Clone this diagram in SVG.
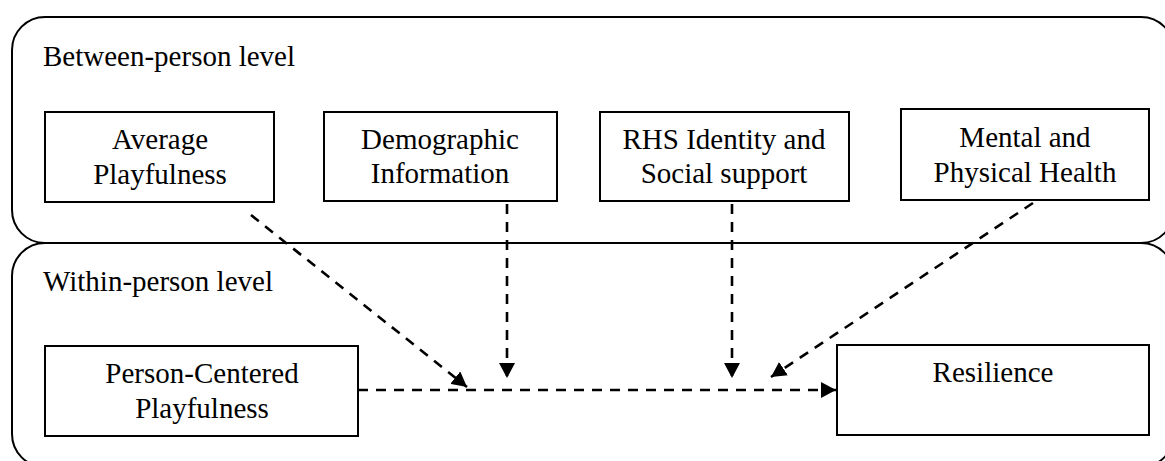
<svg xmlns="http://www.w3.org/2000/svg" width="1165" height="461" viewBox="0 0 1165 461">
<style>
.container{fill:none;stroke:#000;stroke-width:2}
.box{fill:#fff;stroke:#000;stroke-width:2}
.t{font-family:"Liberation Serif","Times New Roman",serif;font-size:29px;fill:#000}
.c{text-anchor:middle}
.dash{fill:none;stroke:#000;stroke-width:2.6;stroke-dasharray:10 8}
</style>
<defs>
<marker id="arr" markerUnits="userSpaceOnUse" markerWidth="16" markerHeight="16" refX="15" refY="8" orient="auto">
<path d="M0,0 L15,8 L0,16 z" fill="#000"/>
</marker>
</defs>
<rect width="1165" height="461" fill="#fff"/>
<g id="between-level">
<rect class="container" x="12" y="17" width="1162" height="226" rx="33" ry="33"/>
<text class="t" x="43" y="66">Between-person level</text>
</g>
<g id="within-level">
<rect class="container" x="12" y="243" width="1162" height="224" rx="33" ry="33"/>
<text class="t" x="43" y="291">Within-person level</text>
</g>
<g id="average-playfulness">
<rect class="box" x="45" y="112" width="229" height="90"/>
<text class="t c" x="160" y="149">Average</text>
<text class="t c" x="160" y="184">Playfulness</text>
</g>
<g id="demographic-information">
<rect class="box" x="324" y="112" width="233" height="89"/>
<text class="t c" x="440" y="149">Demographic</text>
<text class="t c" x="440" y="183">Information</text>
</g>
<g id="rhs-identity">
<rect class="box" x="600" y="112" width="249" height="89"/>
<text class="t c" x="724" y="149">RHS Identity and</text>
<text class="t c" x="724" y="183">Social support</text>
</g>
<g id="mental-physical-health">
<rect class="box" x="901" y="109" width="248" height="91"/>
<text class="t c" x="1025" y="147">Mental and</text>
<text class="t c" x="1025" y="182">Physical Health</text>
</g>
<g id="person-centered-playfulness">
<rect class="box" x="45" y="346" width="313" height="90"/>
<text class="t c" x="202" y="383">Person-Centered</text>
<text class="t c" x="202" y="418">Playfulness</text>
</g>
<g id="resilience">
<rect class="box" x="837" y="345" width="312" height="90"/>
<text class="t c" x="993" y="382">Resilience</text>
</g>
<g id="connectors">
<line class="dash" x1="358" y1="390" x2="836" y2="390" marker-end="url(#arr)"/>
<line class="dash" x1="251" y1="215" x2="467" y2="387" marker-end="url(#arr)"/>
<line class="dash" x1="507" y1="204" x2="507" y2="378" marker-end="url(#arr)"/>
<line class="dash" x1="732" y1="204" x2="732" y2="378" marker-end="url(#arr)"/>
<line class="dash" x1="1033" y1="203" x2="771" y2="377" marker-end="url(#arr)"/>
</g>
</svg>
